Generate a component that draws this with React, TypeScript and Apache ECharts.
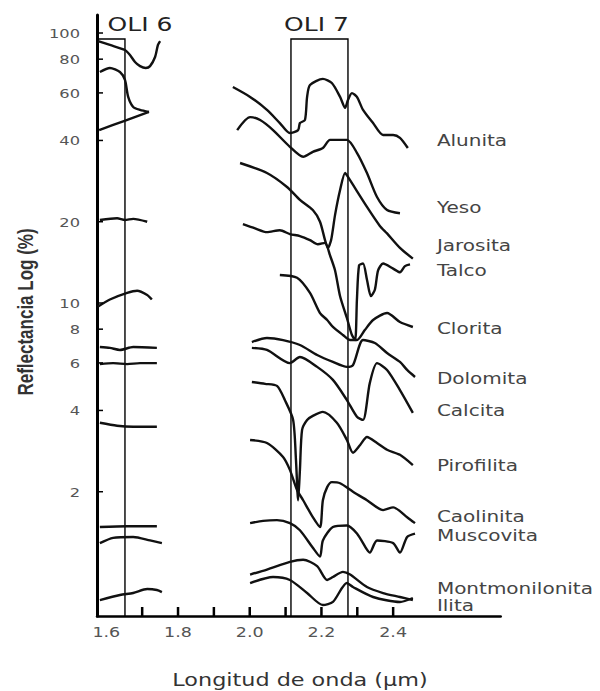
import React, { useEffect, useRef } from 'react';
import * as echarts from 'echarts';

// ---- axis ranges ----
const X_MIN = 1.574;
const X_MAX = 2.7;
const Y_MIN = 0.693;
const Y_MAX = 116.6;

// ---- ticks ----
const yTickValues = [100, 80, 60, 40, 20, 10, 8, 6, 4, 2];
const xTickMarks = [1.7, 1.8, 1.9, 2.0, 2.1, 2.2, 2.3, 2.4];
const xTickLabelValues = [1.6, 1.8, 2.0, 2.2, 2.4];
const xTickLabels = ['1.6', '1.8', '2.0', '2.2', '2.4'];

// ---- OLI bands ----
const bandNames = ['OLI 6', 'OLI 7'];
const bandFrom = [1.574, 2.115];
const bandTo = [1.652, 2.274];
const bandTop = [95, 95];

// ---- mineral names and label anchors (reflectance) ----
const minerals = ['Alunita', 'Yeso', 'Jarosita', 'Talco', 'Clorita', 'Dolomita', 'Calcita', 'Pirofilita', 'Caolinita', 'Muscovita', 'Montmonilonita', 'Ilita'];
const labelValues = [39.9, 22.7, 16.4, 13.2, 8.08, 5.28, 4.02, 2.51, 1.62, 1.38, 0.88, 0.761];

// ---- spectra, 2.0 - 2.45 um ----
const alunita = [[1.953, 63.1], [2.001, 58.0], [2.048, 51.9], [2.084, 46.4], [2.112, 42.6], [2.135, 43.7], [2.140, 46.4], [2.154, 47.6], [2.160, 58.0], [2.168, 64.2], [2.204, 67.6], [2.229, 65.3], [2.252, 58.0], [2.266, 52.8], [2.274, 56.5], [2.285, 59.9], [2.299, 58.0], [2.316, 51.9], [2.344, 46.4], [2.372, 41.9], [2.400, 41.9], [2.419, 40.9], [2.441, 37.5]];
const yeso = [[1.965, 43.7], [2.001, 48.8], [2.029, 47.6], [2.065, 43.7], [2.112, 37.9], [2.149, 34.8], [2.176, 36.3], [2.204, 37.5], [2.224, 40.2], [2.271, 40.2], [2.299, 36.0], [2.327, 30.3], [2.355, 24.7], [2.383, 22.1], [2.419, 21.5]];
const jarosita = [[1.973, 33.0], [2.048, 30.3], [2.104, 26.9], [2.140, 24.1], [2.176, 22.1], [2.196, 20.0], [2.210, 17.1], [2.218, 16.0], [2.227, 17.1], [2.238, 21.2], [2.252, 26.2], [2.266, 30.3], [2.274, 29.3], [2.327, 22.7], [2.363, 19.3], [2.383, 18.1], [2.419, 16.0], [2.455, 14.6]];
const talco = [[1.981, 19.6], [2.015, 18.9], [2.048, 18.3], [2.084, 18.6], [2.112, 18.0], [2.140, 17.7], [2.168, 17.1], [2.190, 16.5], [2.210, 16.7], [2.224, 15.0], [2.238, 13.2], [2.252, 10.6], [2.271, 8.80], [2.285, 7.61], [2.294, 7.29], [2.299, 10.3], [2.305, 13.8], [2.316, 14.0], [2.327, 12.2], [2.338, 10.6], [2.349, 11.2], [2.358, 13.2], [2.372, 14.0], [2.400, 13.4], [2.419, 13.0], [2.433, 13.7], [2.447, 13.9]];
const clorita = [[2.084, 12.7], [2.132, 12.4], [2.168, 10.9], [2.196, 9.18], [2.216, 8.65], [2.232, 8.15], [2.260, 7.61], [2.280, 7.29], [2.299, 7.29], [2.321, 7.94], [2.344, 8.65], [2.383, 9.18], [2.419, 8.50], [2.455, 8.15]];
const dolomita = [[2.006, 7.17], [2.048, 7.42], [2.093, 7.29], [2.140, 6.99], [2.188, 6.42], [2.232, 6.05], [2.271, 5.80], [2.288, 5.89], [2.316, 7.29], [2.349, 7.11], [2.383, 6.53], [2.419, 6.05], [2.439, 5.65], [2.461, 5.32]];
const calcita = [[2.006, 6.82], [2.048, 6.70], [2.112, 5.99], [2.140, 6.31], [2.188, 5.80], [2.232, 5.19], [2.271, 4.37], [2.299, 3.79], [2.316, 3.69], [2.335, 5.06], [2.355, 5.99], [2.383, 5.65], [2.419, 4.76], [2.455, 3.92]];
const pirofilita = [[2.006, 5.10], [2.043, 5.02], [2.076, 4.93], [2.098, 4.37], [2.121, 3.69], [2.129, 2.62], [2.135, 1.86], [2.140, 2.41], [2.146, 3.39], [2.160, 3.69], [2.176, 3.82], [2.204, 3.95], [2.243, 3.60], [2.271, 3.11], [2.288, 2.79], [2.308, 2.98], [2.327, 3.19], [2.355, 3.03], [2.383, 2.86], [2.419, 2.74], [2.455, 2.51]];
const caolinita = [[2.001, 3.11], [2.048, 3.03], [2.093, 2.69], [2.112, 2.41], [2.132, 2.03], [2.149, 1.86], [2.176, 1.61], [2.196, 1.48], [2.204, 1.86], [2.216, 2.08], [2.229, 2.17], [2.252, 2.15], [2.288, 2.00], [2.327, 1.86], [2.372, 1.71], [2.400, 1.75], [2.439, 1.61], [2.461, 1.53]];
const muscovita = [[2.001, 1.53], [2.037, 1.56], [2.076, 1.57], [2.112, 1.53], [2.140, 1.44], [2.176, 1.24], [2.196, 1.15], [2.204, 1.32], [2.232, 1.48], [2.271, 1.50], [2.299, 1.40], [2.327, 1.22], [2.335, 1.19], [2.355, 1.32], [2.400, 1.29], [2.419, 1.19], [2.439, 1.36], [2.461, 1.40]];
const montmorilonita = [[2.001, 0.987], [2.048, 1.03], [2.112, 1.10], [2.149, 1.12], [2.188, 1.06], [2.216, 0.942], [2.232, 0.966], [2.260, 1.01], [2.280, 0.987], [2.327, 0.887], [2.372, 0.843], [2.419, 0.815], [2.455, 0.794]];
const ilita = [[2.001, 0.918], [2.065, 0.966], [2.112, 0.942], [2.160, 0.843], [2.204, 0.761], [2.232, 0.781], [2.271, 0.918], [2.288, 0.887], [2.344, 0.815], [2.419, 0.781], [2.455, 0.808]];

// ---- spectra, 1.57 - 1.76 um ----
const left1 = [[1.577, 93.4], [1.610, 90.3], [1.652, 86.5], [1.666, 82.9], [1.680, 78.1], [1.694, 75.4], [1.710, 74.2], [1.722, 75.4], [1.736, 81.5], [1.744, 90.3], [1.750, 93.4]];
const left2 = [[1.582, 71.7], [1.610, 74.2], [1.638, 71.7], [1.652, 67.0], [1.661, 58.0], [1.675, 53.2], [1.694, 51.9], [1.719, 51.0]];
const left3 = [[1.580, 43.7], [1.649, 47.2], [1.719, 51.0]];
const left4 = [[1.582, 20.3], [1.630, 20.6], [1.652, 20.3], [1.675, 20.5], [1.714, 20.0]];
const left5 = [[1.577, 9.70], [1.610, 10.3], [1.658, 10.9], [1.686, 11.1], [1.714, 10.7], [1.727, 10.3]];
const left6 = [[1.582, 6.87], [1.610, 6.82], [1.638, 6.70], [1.675, 6.87], [1.741, 6.82]];
const left7 = [[1.582, 5.94], [1.619, 5.99], [1.658, 5.94], [1.694, 5.99], [1.741, 5.99]];
const left8 = [[1.582, 3.60], [1.630, 3.51], [1.675, 3.48], [1.741, 3.48]];
const left9 = [[1.582, 1.48], [1.658, 1.49], [1.741, 1.49]];
const left10 = [[1.582, 1.29], [1.619, 1.35], [1.675, 1.36], [1.722, 1.32], [1.755, 1.29]];
const left11 = [[1.582, 0.794], [1.638, 0.829], [1.675, 0.843], [1.714, 0.872], [1.741, 0.865], [1.755, 0.850]];

const rightCurves = [alunita, yeso, jarosita, talco, clorita, dolomita, calcita, pirofilita, caolinita, muscovita, montmorilonita, ilita];
const leftCurves = [left1, left2, left3, left4, left5, left6, left7, left8, left9, left10, left11];

// ---- styling constants ----
const LABEL_X = 2.522;
const STRETCH = 1.25;
const bandLabelDx = [29, -3];

export default function App() {
  const ref = useRef<HTMLDivElement>(null);

  useEffect(() => {
    if (!ref.current) return;
    const chart = echarts.init(ref.current, null, { renderer: 'svg' });

    const lineStyle = { color: '#111', width: 2.4 };

    const curveSeries: any[] = [];
    rightCurves.forEach((d, i) => {
      curveSeries.push({
        name: minerals[i],
        type: 'line',
        data: d,
        showSymbol: false,
        smooth: 0.25,
        lineStyle,
        silent: true,
        z: 3,
      });
    });
    leftCurves.forEach((d, i) => {
      curveSeries.push({
        name: 'left-' + (i + 1),
        type: 'line',
        data: d,
        showSymbol: false,
        smooth: 0.25,
        lineStyle,
        silent: true,
        z: 3,
      });
    });

    const option: any = {
      animation: false,
      backgroundColor: '#fff',
      grid: { left: 97, right: 99.3, top: 15, bottom: 75 },
      xAxis: {
        type: 'value',
        min: X_MIN,
        max: X_MAX,
        axisLine: { show: true, onZero: false, lineStyle: { color: '#000', width: 2.5 } },
        axisTick: { show: false },
        axisLabel: { show: false },
        splitLine: { show: false },
      },
      yAxis: {
        type: 'log',
        logBase: 10,
        min: Y_MIN,
        max: Y_MAX,
        axisLine: { show: true, onZero: false, lineStyle: { color: '#000', width: 3 } },
        axisTick: { show: false },
        axisLabel: { show: false },
        splitLine: { show: false },
      },
      graphic: [
        {
          type: 'text',
          x: 300,
          y: 680,
          scaleX: 1.24,
          style: {
            text: 'Longitud de onda (µm)',
            align: 'center',
            verticalAlign: 'middle',
            font: '18px "DejaVu Sans"',
            fill: '#333',
          },
        },
        {
          type: 'text',
          x: 26,
          y: 312,
          rotation: Math.PI / 2,
          scaleY: 1.25,
          style: {
            text: 'Reflectancia Log (%)',
            align: 'center',
            verticalAlign: 'middle',
            font: 'bold 17px "Liberation Sans"',
            fill: '#333',
          },
        },
      ],
      series: [
        ...curveSeries,
        // OLI bands
        {
          type: 'custom',
          name: 'bands',
          silent: true,
          clip: false,
          z: 2,
          data: bandNames.map((_, i) => [bandFrom[i], bandTo[i], bandTop[i]]),
          encode: { x: [0, 1], y: 2 },
          renderItem: (params: any, api: any) => {
            const i = params.dataIndex;
            const pTL = api.coord([api.value(0), api.value(2)]);
            const pBR = api.coord([api.value(1), Y_MIN]);
            return {
              type: 'group',
              children: [
                {
                  type: 'polyline',
                  shape: { points: [[pTL[0], pBR[1]], [pTL[0], pTL[1]], [pBR[0], pTL[1]], [pBR[0], pBR[1]]] },
                  style: { stroke: '#000', lineWidth: 1.4, fill: 'none' },
                },
                {
                  type: 'text',
                  x: (pTL[0] + pBR[0]) / 2 + bandLabelDx[i],
                  y: pTL[1] - 15,
                  scaleX: STRETCH,
                  style: {
                    text: bandNames[i],
                    align: 'center',
                    verticalAlign: 'middle',
                    font: '20px "DejaVu Sans"',
                    fill: '#222',
                  },
                },
              ],
            };
          },
        },
        // y ticks + labels
        {
          type: 'custom',
          name: 'yticks',
          silent: true,
          clip: false,
          z: 4,
          data: yTickValues.map((v) => [X_MIN, v]),
          encode: { x: 0, y: 1 },
          renderItem: (params: any, api: any) => {
            const p = api.coord([api.value(0), api.value(1)]);
            return {
              type: 'group',
              children: [
                { type: 'line', shape: { x1: p[0], y1: p[1], x2: p[0] + 6, y2: p[1] }, style: { stroke: '#000', lineWidth: 1.5 } },
                {
                  type: 'text',
                  x: p[0] - 17,
                  y: p[1],
                  scaleX: STRETCH,
                  style: {
                    text: String(yTickValues[params.dataIndex]),
                    align: 'right',
                    verticalAlign: 'middle',
                    font: '13px "DejaVu Sans"',
                    fill: '#555',
                  },
                },
              ],
            };
          },
        },
        // x tick marks
        {
          type: 'custom',
          name: 'xticks',
          silent: true,
          clip: false,
          z: 4,
          data: xTickMarks.map((v) => [v, Y_MIN]),
          encode: { x: 0, y: 1 },
          renderItem: (params: any, api: any) => {
            const p = api.coord([api.value(0), api.value(1)]);
            return { type: 'line', shape: { x1: p[0], y1: p[1], x2: p[0], y2: p[1] - 9 }, style: { stroke: '#000', lineWidth: 2.5 } };
          },
        },
        // x tick labels
        {
          type: 'custom',
          name: 'xlabels',
          silent: true,
          clip: false,
          z: 4,
          data: xTickLabelValues.map((v) => [v, Y_MIN]),
          encode: { x: 0, y: 1 },
          renderItem: (params: any, api: any) => {
            const p = api.coord([api.value(0), api.value(1)]);
            return {
              type: 'text',
              x: p[0],
              y: p[1] + 16,
              scaleX: STRETCH,
              style: {
                text: xTickLabels[params.dataIndex],
                align: 'center',
                verticalAlign: 'middle',
                font: '14px "DejaVu Sans"',
                fill: '#555',
              },
            };
          },
        },
        // mineral labels
        {
          type: 'custom',
          name: 'mineral-labels',
          silent: true,
          clip: false,
          z: 4,
          data: labelValues.map((v) => [LABEL_X, v]),
          encode: { x: 0, y: 1 },
          renderItem: (params: any, api: any) => {
            const p = api.coord([api.value(0), api.value(1)]);
            return {
              type: 'text',
              x: p[0],
              y: p[1],
              scaleX: STRETCH,
              style: {
                text: minerals[params.dataIndex],
                align: 'left',
                verticalAlign: 'middle',
                font: '16px "DejaVu Sans"',
                fill: '#444',
              },
            };
          },
        },
      ],
    };

    chart.setOption(option);
    return () => chart.dispose();
  }, []);

  return (
    <div
      ref={ref}
      style={{ position: 'fixed', left: 0, top: 0, width: 600, height: 691, background: '#fff' }}
    />
  );
}
